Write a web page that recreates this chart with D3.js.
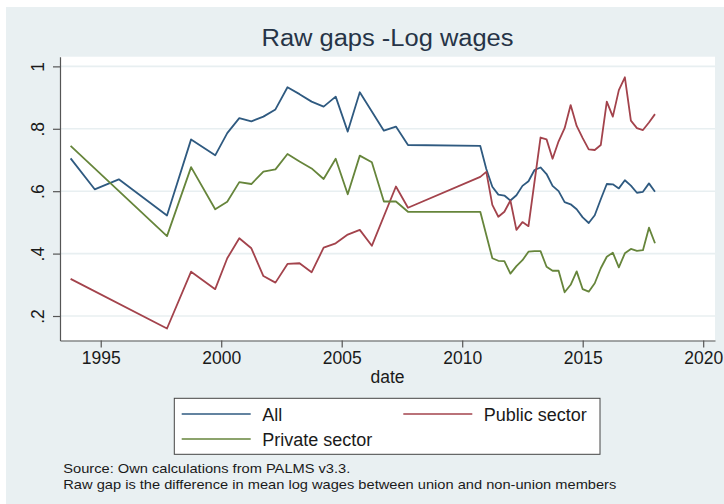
<!DOCTYPE html>
<html>
<head>
<meta charset="utf-8">
<script src="https://cdn.jsdelivr.net/npm/d3@7"></script>
<style>
  body { margin: 0; background: #ffffff; }
  svg text { font-family: "Liberation Sans", Arial, sans-serif; }
</style>
</head>
<body>
<div id="chart"></div>
<script>
// survey dates (decimal years)
var dates = [1993.75, 1994.75, 1995.75, 1997.75, 1998.75, 1999.75, 2000.25, 2000.75,
  2001.25, 2001.75, 2002.25, 2002.75, 2003.25, 2003.75, 2004.25, 2004.75,
  2005.25, 2005.75, 2006.25, 2006.75, 2007.25, 2007.75, 2010.75, 2011.0,
  2011.25, 2011.5, 2011.75, 2012.0, 2012.25, 2012.5, 2012.75, 2013.0,
  2013.25, 2013.5, 2013.75, 2014.0, 2014.25, 2014.5, 2014.75, 2015.0,
  2015.25, 2015.5, 2015.75, 2016.0, 2016.25, 2016.5, 2016.75, 2017.0,
  2017.25, 2017.5, 2017.75, 2018.0];

var allGap = [0.705, 0.606, 0.638, 0.522, 0.766, 0.715, 0.786, 0.834,
  0.824, 0.839, 0.862, 0.933, 0.911, 0.887, 0.871, 0.903,
  0.791, 0.917, null, 0.794, 0.807, 0.748, 0.745, 0.671,
  0.614, 0.589, 0.586, 0.570, 0.587, 0.617, 0.632, 0.668,
  0.676, 0.655, 0.617, 0.600, 0.565, 0.558, 0.542, 0.516,
  0.498, 0.523, 0.574, 0.623, 0.622, 0.609, 0.635, 0.618,
  0.595, 0.598, 0.625, 0.598];

var publicGap = [0.319, null, null, 0.160, 0.342, 0.286, 0.385, 0.449,
  0.417, 0.328, 0.307, 0.367, 0.369, 0.340, 0.419, 0.433,
  0.461, 0.476, 0.425, null, 0.615, 0.547, 0.646, 0.662,
  0.556, 0.518, 0.534, 0.570, 0.476, 0.501, 0.488, null,
  0.772, 0.766, 0.704, 0.760, 0.802, 0.876, 0.809, 0.770,
  0.734, 0.732, 0.748, 0.887, 0.839, 0.924, 0.965, 0.826,
  0.802, 0.796, 0.820, 0.847];

var privateGap = [0.745, null, null, 0.456, 0.677, 0.542, 0.566, 0.629,
  0.623, 0.663, 0.670, 0.719, 0.695, 0.673, 0.639, 0.704,
  0.590, 0.714, 0.693, 0.567, 0.567, 0.534, 0.534, null,
  0.385, 0.377, 0.376, 0.336, 0.360, 0.379, 0.406, 0.408,
  0.408, 0.358, 0.345, 0.345, 0.276, 0.300, 0.343, 0.286,
  0.278, 0.305, 0.353, 0.390, 0.403, 0.356, 0.401, 0.415,
  0.409, 0.411, 0.483, 0.433];

var seriesNames = ["All", "Public sector", "Private sector"];
var seriesColors = ["#2f5a80", "#a3434c", "#66853b"];
var yTicks = [0.2, 0.4, 0.6, 0.8, 1];
var xTicks = [1995, 2000, 2005, 2010, 2015, 2020];

var svg = d3.select("#chart")
            .append("svg")
            .attr("width", 724)
            .attr("height", 504);

// backgrounds
svg.append("rect")
   .attr("x", 6)
   .attr("y", 7)
   .attr("width", 718)
   .attr("height", 497)
   .attr("fill", "#e9f0f2");

var x = d3.scaleLinear().domain([1993.31, 2020.49]).range([60, 715]);
var y = d3.scaleLinear().domain([0.1215, 1.031]).range([340.5, 56.7]);

svg.append("rect")
   .attr("x", 60)
   .attr("y", 56.7)
   .attr("width", 655)
   .attr("height", 283.8)
   .attr("fill", "white");

// gridlines
svg.selectAll(".grid")
   .data(yTicks)
   .enter()
   .append("line")
   .attr("class", "grid")
   .attr("x1", 60)
   .attr("x2", 715)
   .attr("y1", function(d){ return y(d); })
   .attr("y2", function(d){ return y(d); })
   .attr("stroke", "#e8eff1")
   .attr("stroke-width", 1.6);

// title
svg.append("text")
   .attr("x", 387.5)
   .attr("y", 45.7)
   .attr("text-anchor", "middle")
   .attr("font-size", 23)
   .attr("textLength", 252)
   .attr("lengthAdjust", "spacingAndGlyphs")
   .attr("fill", "#263447")
   .text("Raw gaps -Log wages");

// axes
var yAxis = svg.append("g")
   .attr("transform", "translate(60,0)")
   .call(d3.axisLeft(y)
     .tickValues(yTicks)
     .tickSize(7)
     .tickSizeOuter(0)
     .tickFormat(function(d){ return d === 1 ? "1" : d3.format(".1f")(d).replace(/^0/, ""); }));

yAxis.selectAll(".tick text")
   .attr("transform", "rotate(-90)")
   .attr("x", 0)
   .attr("y", -16)
   .attr("dy", 0)
   .attr("text-anchor", "middle");

var xAxis = svg.append("g")
   .attr("transform", "translate(0,340.5)")
   .call(d3.axisBottom(x)
     .tickValues(xTicks)
     .tickSize(7)
     .tickSizeOuter(0)
     .tickPadding(4)
     .tickFormat(d3.format("d")));

svg.selectAll(".tick text")
   .attr("font-size", 17.5)
   .attr("fill", "#1a1a1a");
svg.selectAll(".domain, .tick line")
   .attr("stroke", "#555")
   .attr("stroke-width", 1.2);

svg.append("text")
   .attr("x", 387.5)
   .attr("y", 383.3)
   .attr("text-anchor", "middle")
   .attr("font-size", 17.5)
   .attr("fill", "#1a1a1a")
   .text("date");

// lines
var line = d3.line()
             .x(function(d){ return x(d.date); })
             .y(function(d){ return y(d.v); });

[allGap, publicGap, privateGap].forEach(function(vals, i){
  var pts = dates.map(function(d, j){ return {date: d, v: vals[j]}; })
                 .filter(function(d){ return d.v !== null; });
  svg.append("path")
     .attr("d", line(pts))
     .attr("fill", "none")
     .attr("stroke", seriesColors[i])
     .attr("stroke-width", 1.8)
     .attr("stroke-linejoin", "round");
});

// legend
svg.append("rect")
   .attr("x", 174.3)
   .attr("y", 398.3)
   .attr("width", 425.7)
   .attr("height", 56)
   .attr("fill", "white")
   .attr("stroke", "#444")
   .attr("stroke-width", 1);

var legendPos = [[181.7, 414], [403.3, 414], [181.7, 439]];
seriesNames.forEach(function(name, i){
  svg.append("line")
     .attr("x1", legendPos[i][0])
     .attr("x2", legendPos[i][0] + 69)
     .attr("y1", legendPos[i][1])
     .attr("y2", legendPos[i][1])
     .attr("stroke", seriesColors[i])
     .attr("stroke-width", 1.5);
  svg.append("text")
     .attr("x", legendPos[i][0] + 80.5)
     .attr("y", legendPos[i][1] + 6.5)
     .attr("font-size", 18)
     .attr("fill", "#1a1a1a")
     .text(name);
});

// notes
svg.append("text")
   .attr("x", 63.3)
   .attr("y", 472.8)
   .attr("font-size", 13.5)
   .attr("textLength", 287)
   .attr("lengthAdjust", "spacingAndGlyphs")
   .attr("fill", "#1a1a1a")
   .text("Source: Own calculations from PALMS v3.3.");

svg.append("text")
   .attr("x", 63.3)
   .attr("y", 488.5)
   .attr("font-size", 13.5)
   .attr("textLength", 553)
   .attr("lengthAdjust", "spacingAndGlyphs")
   .attr("fill", "#1a1a1a")
   .text("Raw gap is the difference in mean log wages between union and non-union members");
</script>
</body>
</html>
